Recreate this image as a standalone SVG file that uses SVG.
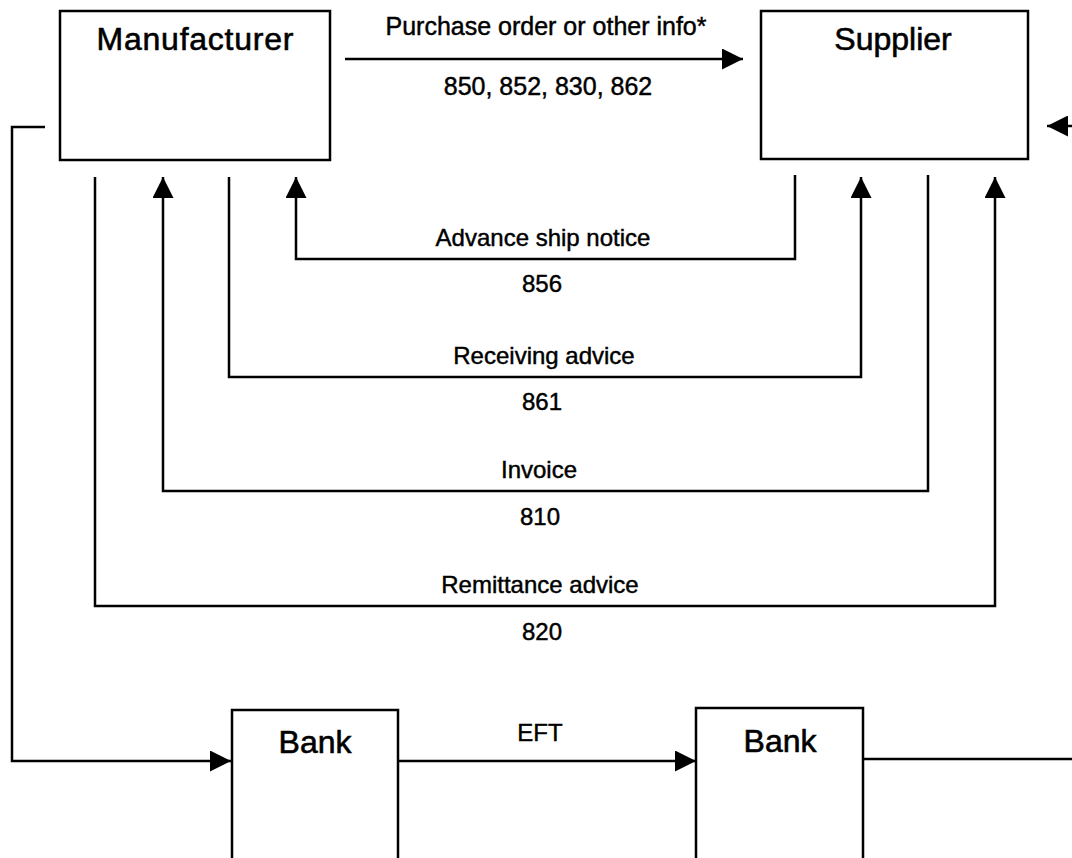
<svg xmlns="http://www.w3.org/2000/svg" width="1072" height="858" viewBox="0 0 1072 858">
  <style>
    .box { fill: #ffffff; stroke: #000000; stroke-width: 2.5; }
    .line { fill: none; stroke: #000000; stroke-width: 2.5; }
    .title { font-family: "Liberation Sans", Arial, sans-serif; font-size: 32px; fill: #000000; stroke: #000000; stroke-width: 0.6; text-anchor: middle; }
    .label { font-family: "Liberation Sans", Arial, sans-serif; font-size: 24px; fill: #000000; stroke: #000000; stroke-width: 0.45; text-anchor: middle; }
    .label.top { font-size: 25px; }
  </style>
  <defs>
    <marker id="arrow" viewBox="0 0 21 21" refX="21" refY="10.5" markerWidth="21" markerHeight="21" markerUnits="userSpaceOnUse" orient="auto">
      <path d="M0,0 L21,10.5 L0,21 Z" fill="#000000"/>
    </marker>
  </defs>
  <rect width="1072" height="858" fill="#ffffff"/>

  <!-- connectors -->
  <g id="connectors">
    <!-- purchase order: manufacturer to supplier -->
    <line class="line" x1="345" y1="59" x2="743" y2="59" marker-end="url(#arrow)"/>
    <!-- advance ship notice: supplier to manufacturer -->
    <polyline class="line" points="795,175 795,259 296,259 296,177" marker-end="url(#arrow)"/>
    <!-- receiving advice: manufacturer to supplier -->
    <polyline class="line" points="229,177 229,377 861,377 861,177" marker-end="url(#arrow)"/>
    <!-- invoice: supplier to manufacturer -->
    <polyline class="line" points="928,175 928,491 163,491 163,177" marker-end="url(#arrow)"/>
    <!-- remittance advice: manufacturer to supplier -->
    <polyline class="line" points="95,177 95,606 995,606 995,177" marker-end="url(#arrow)"/>
    <!-- manufacturer down to its bank -->
    <polyline class="line" points="45,127 12,127 12,761 231,761" marker-end="url(#arrow)"/>
    <!-- EFT between banks -->
    <line class="line" x1="398" y1="761" x2="696" y2="761" marker-end="url(#arrow)"/>
    <!-- supplier bank back up to supplier -->
    <line class="line" x1="863" y1="759" x2="1072" y2="759"/>
    <line class="line" x1="1072" y1="126" x2="1047" y2="126" marker-end="url(#arrow)"/>

    <text class="label top" x="546" y="35">Purchase order or other info*</text>
    <text class="label top" x="548" y="95">850, 852, 830, 862</text>
    <text class="label" x="543" y="246">Advance ship notice</text>
    <text class="label" x="542" y="292">856</text>
    <text class="label" x="544" y="364">Receiving advice</text>
    <text class="label" x="542" y="410">861</text>
    <text class="label" x="539" y="478">Invoice</text>
    <text class="label" x="540" y="525">810</text>
    <text class="label" x="540" y="593">Remittance advice</text>
    <text class="label" x="542" y="640">820</text>
    <text class="label" x="540" y="741">EFT</text>
  </g>

  <g id="manufacturer">
    <rect class="box" x="60" y="11" width="270" height="149"/>
    <text class="title" x="195" y="50" textLength="197">Manufacturer</text>
  </g>

  <g id="supplier">
    <rect class="box" x="761" y="11" width="267" height="148"/>
    <text class="title" x="893" y="50">Supplier</text>
  </g>

  <g id="bank-manufacturer">
    <path class="line" d="M232,858 L232,710 L398,710 L398,858"/>
    <text class="title" x="315" y="753">Bank</text>
  </g>

  <g id="bank-supplier">
    <path class="line" d="M696,858 L696,708 L863,708 L863,858"/>
    <text class="title" x="780" y="752">Bank</text>
  </g>
</svg>
